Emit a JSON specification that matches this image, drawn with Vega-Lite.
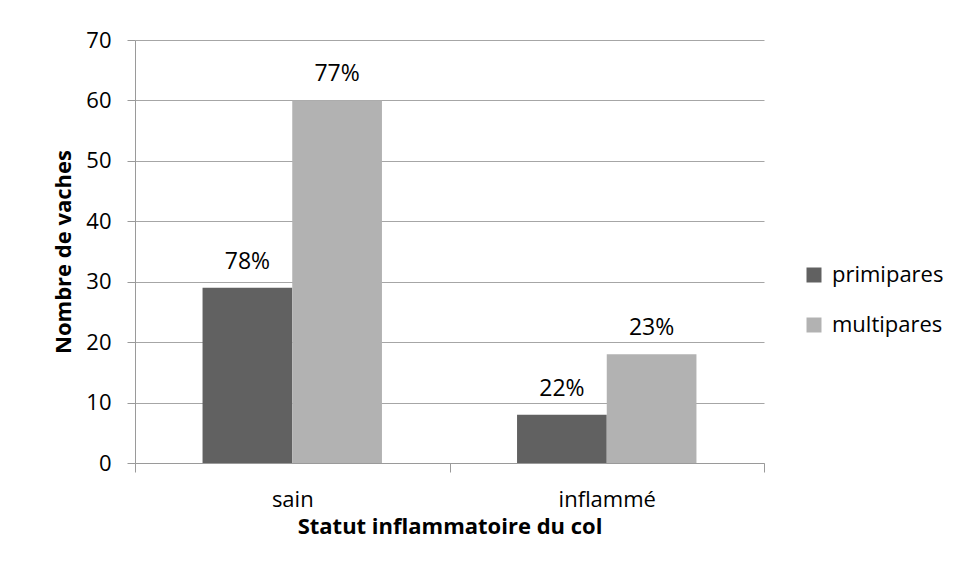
{
  "$schema": "https://vega.github.io/schema/vega-lite/v6.json",
  "width": 629,
  "height": 423,
  "autosize": {"type": "none"},
  "padding": {"left": 135, "top": 40, "right": 194, "bottom": 118},
  "background": "white",
  "config": {"view": {"stroke": null}, "font": "Open Sans"},
  "data": {
    "values": [
      {"statut": "sain", "parite": "primipares", "n": 29, "pct": "78%"},
      {"statut": "sain", "parite": "multipares", "n": 60, "pct": "77%"},
      {"statut": "inflammé", "parite": "primipares", "n": 8, "pct": "22%"},
      {"statut": "inflammé", "parite": "multipares", "n": 18, "pct": "23%"}
    ]
  },
  "encoding": {
    "x": {
      "field": "statut",
      "type": "nominal",
      "sort": ["sain", "inflammé"],
      "scale": {"paddingInner": 0, "paddingOuter": 0},
      "axis": {
        "title": "Statut inflammatoire du col",
        "labelAngle": 0,
        "tickBand": "extent",
        "tickSize": 9,
        "labelPadding": 17,
        "titlePadding": 6,
        "domainColor": "#9a9a9a",
        "tickColor": "#9a9a9a",
        "labelFontSize": 22,
        "labelColor": "#000000",
        "titleFontSize": 22,
        "titleFontWeight": "bold",
        "titleColor": "#000000"
      }
    },
    "xOffset": {
      "field": "parite",
      "type": "nominal",
      "sort": ["primipares", "multipares"],
      "scale": {"paddingInner": 0, "paddingOuter": 0.753}
    },
    "y": {
      "field": "n",
      "type": "quantitative",
      "scale": {"domain": [0, 70], "nice": false},
      "axis": {
        "values": [0, 10, 20, 30, 40, 50, 60, 70],
        "title": "Nombre de vaches",
        "tickSize": 8,
        "labelPadding": 16,
        "titlePadding": 10,
        "domainColor": "#9a9a9a",
        "tickColor": "#9a9a9a",
        "gridColor": "#a6a6a6",
        "labelFontSize": 22,
        "labelColor": "#000000",
        "titleFontSize": 22,
        "titleFontWeight": "bold",
        "titleColor": "#000000"
      }
    }
  },
  "layer": [
    {
      "mark": {"type": "bar"},
      "encoding": {
        "color": {
          "field": "parite",
          "type": "nominal",
          "scale": {"domain": ["primipares", "multipares"], "range": ["#616161", "#b2b2b2"]},
          "legend": {
            "title": null,
            "orient": "none",
            "legendX": 668,
            "legendY": 224,
            "symbolType": "square",
            "symbolSize": 225,
            "symbolStrokeWidth": 0,
            "labelFontSize": 22,
            "labelColor": "#000000",
            "labelOffset": 7,
            "rowPadding": 28
          }
        }
      }
    },
    {
      "mark": {"type": "text", "dy": -19, "baseline": "alphabetic", "fontSize": 23, "color": "#000000"},
      "encoding": {"text": {"field": "pct"}}
    }
  ]
}
